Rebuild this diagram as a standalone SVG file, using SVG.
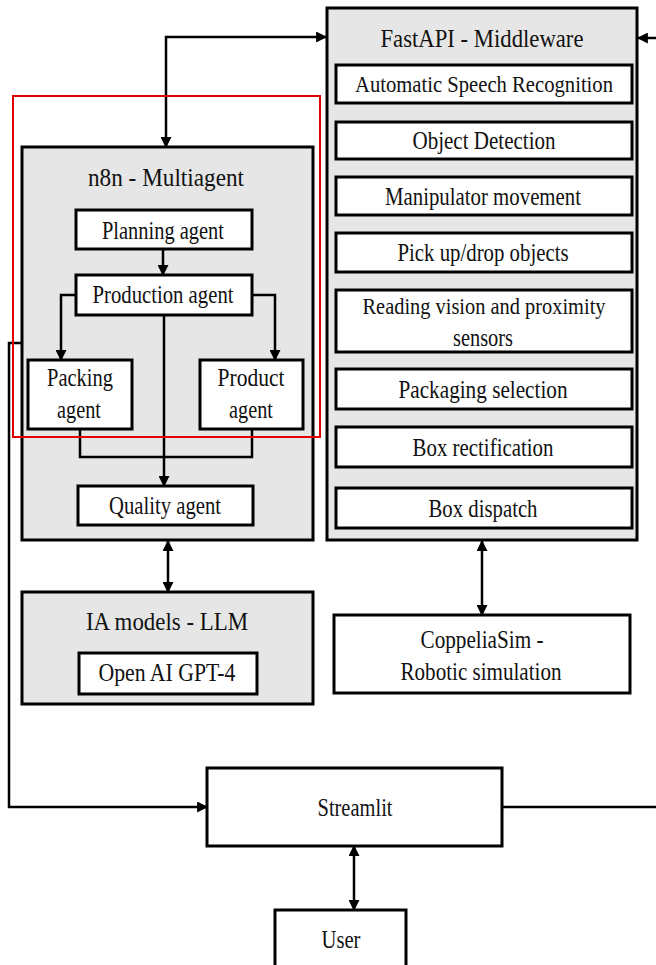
<svg xmlns="http://www.w3.org/2000/svg" width="656" height="965" viewBox="0 0 656 965">
<style>
.grp{fill:#e6e6e6;stroke:#000;stroke-width:3}
.box{fill:#fff;stroke:#000;stroke-width:3}
.t{font-family:"Liberation Serif","Times New Roman",serif;font-size:25px;fill:#111;text-anchor:middle}
.h{font-size:26px}
.n{font-size:23px}
.c{fill:none;stroke:#000;stroke-width:2.5}
</style>
<defs>
<marker id="ah" viewBox="0 0 10 10" refX="9" refY="5" markerWidth="11" markerHeight="11" markerUnits="userSpaceOnUse" orient="auto-start-reverse">
<path d="M0,0 L10,5 L0,10 z" fill="#000"/>
</marker>
</defs>
<rect width="656" height="965" fill="#fff"/>

<g id="n8n">
<rect class="grp" x="22" y="147" width="291" height="393"/>
<text class="t h" x="166" y="186" textLength="156" lengthAdjust="spacingAndGlyphs">n8n - Multiagent</text>
</g>
<g id="fastapi">
<rect class="grp" x="327" y="8" width="310" height="532"/>
<text class="t h" x="482" y="47" textLength="203" lengthAdjust="spacingAndGlyphs">FastAPI - Middleware</text>
</g>
<g id="ia">
<rect class="grp" x="22" y="592" width="291" height="112"/>
<text class="t h" x="167" y="630" textLength="162" lengthAdjust="spacingAndGlyphs">IA models - LLM</text>
</g>

<g id="connectors">
<path class="c" d="M166,147 V37 H326" marker-start="url(#ah)" marker-end="url(#ah)"/>
<path class="c" d="M656,38 H638" marker-end="url(#ah)"/>
<path class="c" d="M163,249 V275" marker-end="url(#ah)"/>
<path class="c" d="M76,295 H61 V360" marker-end="url(#ah)"/>
<path class="c" d="M252,295 H275 V360" marker-end="url(#ah)"/>
<path class="c" d="M164,315 V486" marker-end="url(#ah)"/>
<path class="c" d="M80,429 V457 H252 V429"/>
<path class="c" d="M168,541 V592" marker-start="url(#ah)" marker-end="url(#ah)"/>
<path class="c" d="M22,343 H9 V807 H207" marker-end="url(#ah)"/>
<path class="c" d="M502,807 H656"/>
<path class="c" d="M354,846 V910" marker-start="url(#ah)" marker-end="url(#ah)"/>
<path class="c" d="M482,541 V615" marker-start="url(#ah)" marker-end="url(#ah)"/>
</g>

<g id="planning">
<rect class="box" x="76" y="210" width="176" height="39"/>
<text class="t" x="163" y="239" textLength="122" lengthAdjust="spacingAndGlyphs">Planning agent</text>
</g>
<g id="production">
<rect class="box" x="76" y="275" width="176" height="40"/>
<text class="t" x="163" y="303" textLength="141" lengthAdjust="spacingAndGlyphs">Production agent</text>
</g>
<g id="packing">
<rect class="box" x="28" y="360" width="104" height="69"/>
<text class="t" x="80" y="386" textLength="66" lengthAdjust="spacingAndGlyphs">Packing</text>
<text class="t" x="79" y="418" textLength="44" lengthAdjust="spacingAndGlyphs">agent</text>
</g>
<g id="product">
<rect class="box" x="200" y="360" width="103" height="69"/>
<text class="t" x="251" y="386" textLength="67" lengthAdjust="spacingAndGlyphs">Product</text>
<text class="t" x="251" y="418" textLength="44" lengthAdjust="spacingAndGlyphs">agent</text>
</g>
<g id="quality">
<rect class="box" x="78" y="486" width="175" height="39"/>
<text class="t" x="165" y="514" textLength="112" lengthAdjust="spacingAndGlyphs">Quality agent</text>
</g>
<g id="gpt4">
<rect class="box" x="79" y="653" width="178" height="41"/>
<text class="t" x="167" y="681" textLength="137" lengthAdjust="spacingAndGlyphs">Open AI GPT-4</text>
</g>

<g id="asr">
<rect class="box" x="336" y="65" width="296" height="38"/>
<text class="t n" x="484" y="92" textLength="258" lengthAdjust="spacingAndGlyphs">Automatic Speech Recognition</text>
</g>
<g id="objdet">
<rect class="box" x="336" y="122" width="296" height="37"/>
<text class="t" x="484" y="149" textLength="143" lengthAdjust="spacingAndGlyphs">Object Detection</text>
</g>
<g id="manip">
<rect class="box" x="336" y="177" width="296" height="38"/>
<text class="t" x="483" y="205" textLength="196" lengthAdjust="spacingAndGlyphs">Manipulator movement</text>
</g>
<g id="pick">
<rect class="box" x="336" y="233" width="296" height="39"/>
<text class="t" x="483" y="261" textLength="171" lengthAdjust="spacingAndGlyphs">Pick up/drop objects</text>
</g>
<g id="reading">
<rect class="box" x="336" y="290" width="296" height="62"/>
<text class="t n" x="484" y="314" textLength="243" lengthAdjust="spacingAndGlyphs">Reading vision and proximity</text>
<text class="t" x="483" y="346" textLength="60" lengthAdjust="spacingAndGlyphs">sensors</text>
</g>
<g id="packsel">
<rect class="box" x="336" y="369" width="296" height="40"/>
<text class="t" x="483" y="398" textLength="169" lengthAdjust="spacingAndGlyphs">Packaging selection</text>
</g>
<g id="boxrect">
<rect class="box" x="336" y="427" width="296" height="40"/>
<text class="t" x="483" y="456" textLength="141" lengthAdjust="spacingAndGlyphs">Box rectification</text>
</g>
<g id="boxdisp">
<rect class="box" x="336" y="488" width="296" height="40"/>
<text class="t" x="483" y="517" textLength="109" lengthAdjust="spacingAndGlyphs">Box dispatch</text>
</g>

<g id="coppelia">
<rect class="box" x="334" y="615" width="296" height="78"/>
<text class="t" x="482" y="648" textLength="123" lengthAdjust="spacingAndGlyphs">CoppeliaSim -</text>
<text class="t" x="481" y="680" textLength="161" lengthAdjust="spacingAndGlyphs">Robotic simulation</text>
</g>
<g id="streamlit">
<rect class="box" x="207" y="768" width="295" height="78"/>
<text class="t" x="355" y="816" textLength="75" lengthAdjust="spacingAndGlyphs">Streamlit</text>
</g>
<g id="user">
<rect class="box" x="275" y="910" width="131" height="60"/>
<text class="t" x="341" y="948" textLength="39" lengthAdjust="spacingAndGlyphs">User</text>
</g>

<g id="highlight">
<rect x="13" y="96" width="307" height="341" fill="none" stroke="#e00000" stroke-width="2"/>
</g>
</svg>
